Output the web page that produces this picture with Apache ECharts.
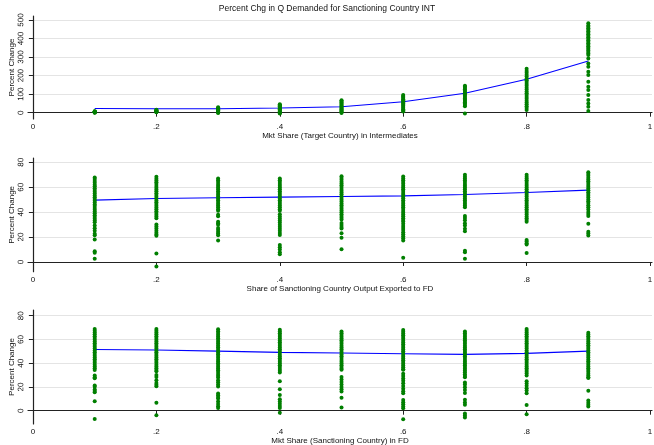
<!DOCTYPE html>
<html><head><meta charset="utf-8">
<script src="https://cdn.jsdelivr.net/npm/echarts@6/dist/echarts.min.js"></script>
<style>html,body{margin:0;padding:0;background:#fff}#c{width:654px;height:445px}</style>
</head><body><div id="c"></div>
<script>
const xCats = [0.1,0.2,0.3,0.4,0.5,0.6,0.7,0.8,0.9];
const xTicks = [0,0.2,0.4,0.6,0.8,1];
const xTickLabels = ['0','.2','.4','.6','.8','1'];
const p1YTicks = [0,100,200,300,400,500];
const p23YTicks = [0,20,40,60,80];

const title = 'Percent Chg in Q Demanded for Sanctioning Country INT';
const xNames = ['Mkt Share (Target Country) in Intermediates','Share of Sanctioning Country Output Exported to FD','Mkt Share (Sanctioning Country) in FD'];
const yName = 'Percent Change';

// Panel 1: points by x category
const p1Pts = [
 [0,1,2,3,4,5,6,7,8],
 [2,4,6,8,10,12,14,16],
 [-2,1,4,7,10,13,16,19,22,25,29],
 [-5,-1,3,7,11,15,19,23,27,31,35,39,42,45],
 [-2,3,8,13,18,23,28,33,38,43,48,53,58,63,67],
 [7,13,19,25,31,37,43,49,55,61,67,73,79,85,90,95],
 [-5,35,42,49,56,63,70,77,84,91,98,105,112,119,126,133,140,146],
 [15,25,35,45,55,65,75,85,95,105,115,125,135,145,155,165,175,185,195,205,215,225,237],
 [9,32,50,68,95,122,140,167,203,221,248,266,293,311,319,327,335,343,351,359,367,375,383,391,399,407,415,423,431,439,447,455,463,471,482]
];
const p1Fit = [23,21,21,25,32,59,105,180,279];

// Panel 2
const p2Pts = [
 [67.8,66.5,65,63.6,62,60.7,59.2,57.8,56.3,55,53.4,52,50.6,49.1,47.7,46.2,44.8,43.3,41.9,40.4,39,37.5,36.1,34.6,33.2,31.8,29.2,27,25.1,22.6,21.4,18,8.7,7.4,2.6],
 [68.3,66.8,65.4,63.9,62.5,61,59.6,58.1,56.7,55.2,53.8,52.3,50.9,49.4,48,46.5,45.1,43.6,42.2,40.7,39.3,37.8,36.4,35,30.1,28.5,26.8,25,23.4,22,21,6.8,-3.6],
 [67,65.5,64.1,62.6,61.2,59.7,58.3,56.8,55.4,53.9,52.5,51,49.6,48.1,46.7,45.2,43.8,42.3,41,37.9,36.6,32.2,31,29.8,27.2,25.8,24.3,22.9,21.4,17.2],
 [67,65.5,64.1,62.6,61.2,59.7,58.3,56.8,55.4,53.9,52.5,51,49.6,48.1,46.7,45.2,43.8,42.3,41,38.2,36.5,34.9,33.2,31.6,29.9,28.3,26.6,25,23.3,21.7,13.6,11.8,10,7.8,6.2],
 [68.8,67.3,65.9,64.4,63,61.5,60.1,58.6,57.2,55.7,54.3,52.8,51.4,49.9,48.5,47,45.6,44.1,42.7,41.2,39.8,38.3,36.9,35.4,34,31.2,29.6,28.1,26.9,23.1,19.4,10.2],
 [68.5,67,65.6,64.1,62.7,61.2,59.8,58.3,56.9,55.4,54,52.5,51.1,49.6,48.2,46.7,45.3,43.8,42.4,40.9,39.5,38,36.6,35.1,33.7,32.4,30.6,28.9,27.2,25.6,23.9,22.3,20.6,19,17.3,3.3],
 [69.9,68.4,67,65.5,64.1,62.6,61.2,59.7,58.3,56.8,55.4,53.9,52.5,51,49.6,48.1,46.7,45.2,43.8,36.8,35.2,33.4,31.1,29.2,26.7,24.6,9.1,7.9,2.6],
 [69.9,68.4,67,65.5,64.1,62.6,61.2,59.7,58.3,56.8,55.4,53.9,52.5,51,49.6,48.1,46.7,45.2,43.8,42.3,40.9,39.4,38,36.5,35.1,33.6,32.2,17.6,16.4,15.1,14,7.1],
 [72,70.5,69.1,67.6,66.2,64.7,63.3,61.8,60.4,58.9,57.5,56,54.6,53.1,51.7,50.2,48.8,47.3,45.6,43.9,42,40.1,38.4,36.8,30.6,24.2,22.8,21.2]
];
const p2Fit = [49.6,50.9,51.5,52,52.5,53,54.1,55.7,57.6];

// Panel 3
const p3Pts = [
 [68.8,67.3,65.8,64.3,62.8,61.3,59.8,58.3,56.8,55.3,53.8,52.3,50.8,49.3,47.8,46.3,44.8,43.3,41.8,40.3,38.8,37.3,35.8,34.3,29.6,28.2,27.4,21.3,20.1,17.8,16.6,15.6,8,-7],
 [68.8,67.3,65.8,64.3,62.8,61.3,59.8,58.3,56.8,55.3,53.8,52.3,50.8,49.3,47.8,46.3,44.8,43.3,41.8,40.3,38.8,37.3,35.8,34.3,33.2,30.1,28.3,25.7,23.4,21.8,20.5,6.6,-3.9],
 [68.5,67,65.5,64,62.5,61,59.5,58,56.5,55,53.5,52,50.5,49,47.5,46,44.5,43,41.5,40,38.5,37,35.5,34,32.5,31,29.5,28,25.6,23.9,22.1,20.4,14.5,13,11.6,10.2,7.7,5.6,3.8,2.3],
 [68.2,66.7,65.2,63.7,62.2,60.7,59.2,57.7,56.2,54.7,53.2,51.7,50.2,48.7,47.2,45.7,44.2,42.7,41.2,39.7,38.2,36.7,35.2,33.7,32.2,24.8,18.1,13.3,9.7,7.8,5.9,4,2.3,-1.7],
 [66.8,65.3,63.8,62.3,60.8,59.3,57.8,56.3,54.8,53.3,51.8,50.3,48.8,47.3,45.8,44.3,42.8,41.3,39.8,38.3,36.8,35.3,34.4,28.3,26.2,24.1,22,20,18,16.2,11,2.8],
 [68,66.5,65,63.5,62,60.5,59,57.5,56,54.5,53,51.5,50,48.5,47,45.5,44,42.5,41,39.5,38,36.5,35,34.4,31.2,29.3,27.2,25.3,23.1,20.8,18.5,16.4,14.8,9.1,7.2,5.4,3.6,2.1,-7.2],
 [66.8,65.3,63.8,62.3,60.8,59.3,57.8,56.3,54.8,53.3,51.8,50.3,48.8,47.3,45.8,44.3,42.8,41.3,39.8,38.3,36.8,35.3,33.8,32.3,30.8,29.3,28.2,23.8,22,19.8,17.4,14.9,9.2,7,5,-2.3,-4.1,-5.8],
 [68.8,67.3,65.8,64.3,62.8,61.3,59.8,58.3,56.8,55.3,53.8,52.3,50.8,49.3,47.8,46.3,44.8,43.3,41.8,40.3,38.8,37.3,35.8,34.3,32.8,31.3,29.6,24.8,22.9,21,19,17,14.8,4.9,-3],
 [65.7,64.2,62.7,61.2,59.7,58.2,56.7,55.2,53.7,52.2,50.7,49.2,47.7,46.2,44.7,43.2,41.7,40.2,38.7,37.2,35.7,34.2,32.7,31.2,29.7,28.2,27.5,16.7,8.6,6.7,5,3.6]
];
const p3Fit = [51.6,51.1,50.2,49.1,48.6,48,47.4,48.3,50.2];

const FONT = "'Liberation Sans', Arial, sans-serif";
const ptsData = pts => { const d=[]; pts.forEach((col,i)=>col.forEach(v=>d.push([xCats[i],v]))); return d; };
const fitData = f => f.map((v,i)=>[xCats[i],v]);

// full plot regions (data + axis lines)
const grids = [
  {left:28, right:2, top:16, height:103},
  {left:28, right:2, top:158, height:113.7},
  {left:28, right:2, top:310, height:114}
];
// regions spanned by first..last y tick (same pixel scale) for y ticks, labels, grid lines
const tickGrids = [
  {left:28, right:2, top:20, height:92.7},
  {left:28, right:2, top:162.3, height:99.7},
  {left:28, right:2, top:315.7, height:95}
];
const yRanges = [[-34,521.6],[-7.8,83.4],[-11.2,84.8]];
const yTickSets = [p1YTicks,p23YTicks,p23YTicks];
const xMin = -0.0081, xMax = 1.0032;

const allGrids = grids.concat(tickGrids).map(g=>Object.assign({containLabel:false, outerBoundsMode:'none'},g));

const xAxes = grids.map((g,i)=>({
  type:'value', gridIndex:i, min:xMin, max:xMax,
  axisLine:{show:true,lineStyle:{color:'#222',width:1.2}},
  axisTick:{show:true,length:4,customValues:xTicks,lineStyle:{color:'#222'}},
  axisLabel:{customValues:xTicks,formatter:v=>xTickLabels[xTicks.indexOf(Math.round(v*10)/10)]||'',fontSize:8,color:'#111',margin:4,fontFamily:FONT},
  splitLine:{show:false},
  name:xNames[i], nameLocation:'middle', nameGap:12.5,
  nameTextStyle:{fontSize:8,color:'#111',fontFamily:FONT}
})).concat(tickGrids.map((g,i)=>({
  type:'value', gridIndex:3+i, min:xMin, max:xMax, show:false
})));

const yAxes = grids.map((g,i)=>({
  type:'value', gridIndex:i, min:yRanges[i][0], max:yRanges[i][1],
  axisLine:{show:true,lineStyle:{color:'#222',width:1.2}},
  axisTick:{show:false}, axisLabel:{show:false},
  splitLine:{show:false},
  name:yName, nameLocation:'middle', nameGap:12,
  nameTextStyle:{fontSize:8,color:'#111',fontFamily:FONT}
})).concat(tickGrids.map((g,i)=>{
  const t = yTickSets[i];
  return {
    type:'value', gridIndex:3+i, min:t[0], max:t[t.length-1], interval:t[1]-t[0],
    axisLine:{show:false},
    axisTick:{show:true,length:4,lineStyle:{color:'#222'}},
    axisLabel:{show:true,rotate:89.9,align:'center',verticalAlign:'bottom',hideOverlap:false,
      fontSize:8,color:'#111',margin:3,fontFamily:FONT},
    splitLine:{show:true,lineStyle:{color:'#e4e4e4',width:1}}
  };
}));

const series = [];
[p1Fit,p2Fit,p3Fit].forEach((f,i)=>{
  series.push({type:'line',xAxisIndex:i,yAxisIndex:i,data:fitData(f),symbol:'none',smooth:false,
    lineStyle:{color:'#0000ff',width:1.1},silent:true,z:2});
});
[p1Pts,p2Pts,p3Pts].forEach((pts,i)=>{
  series.push({type:'scatter',xAxisIndex:i,yAxisIndex:i,data:ptsData(pts),symbolSize:4,
    itemStyle:{color:'#007f00',opacity:1},silent:true,z:3});
});

const chart = echarts.init(document.getElementById('c'),null,{renderer:'canvas'});
chart.setOption({
  animation:false,
  backgroundColor:'#fff',
  textStyle:{fontFamily:FONT},
  title:{text:title,left:'center',top:4,padding:0,textStyle:{fontSize:8.5,fontWeight:'normal',color:'#111',fontFamily:FONT}},
  grid:allGrids,
  xAxis:xAxes,
  yAxis:yAxes,
  series:series
});
</script>
</body></html>
